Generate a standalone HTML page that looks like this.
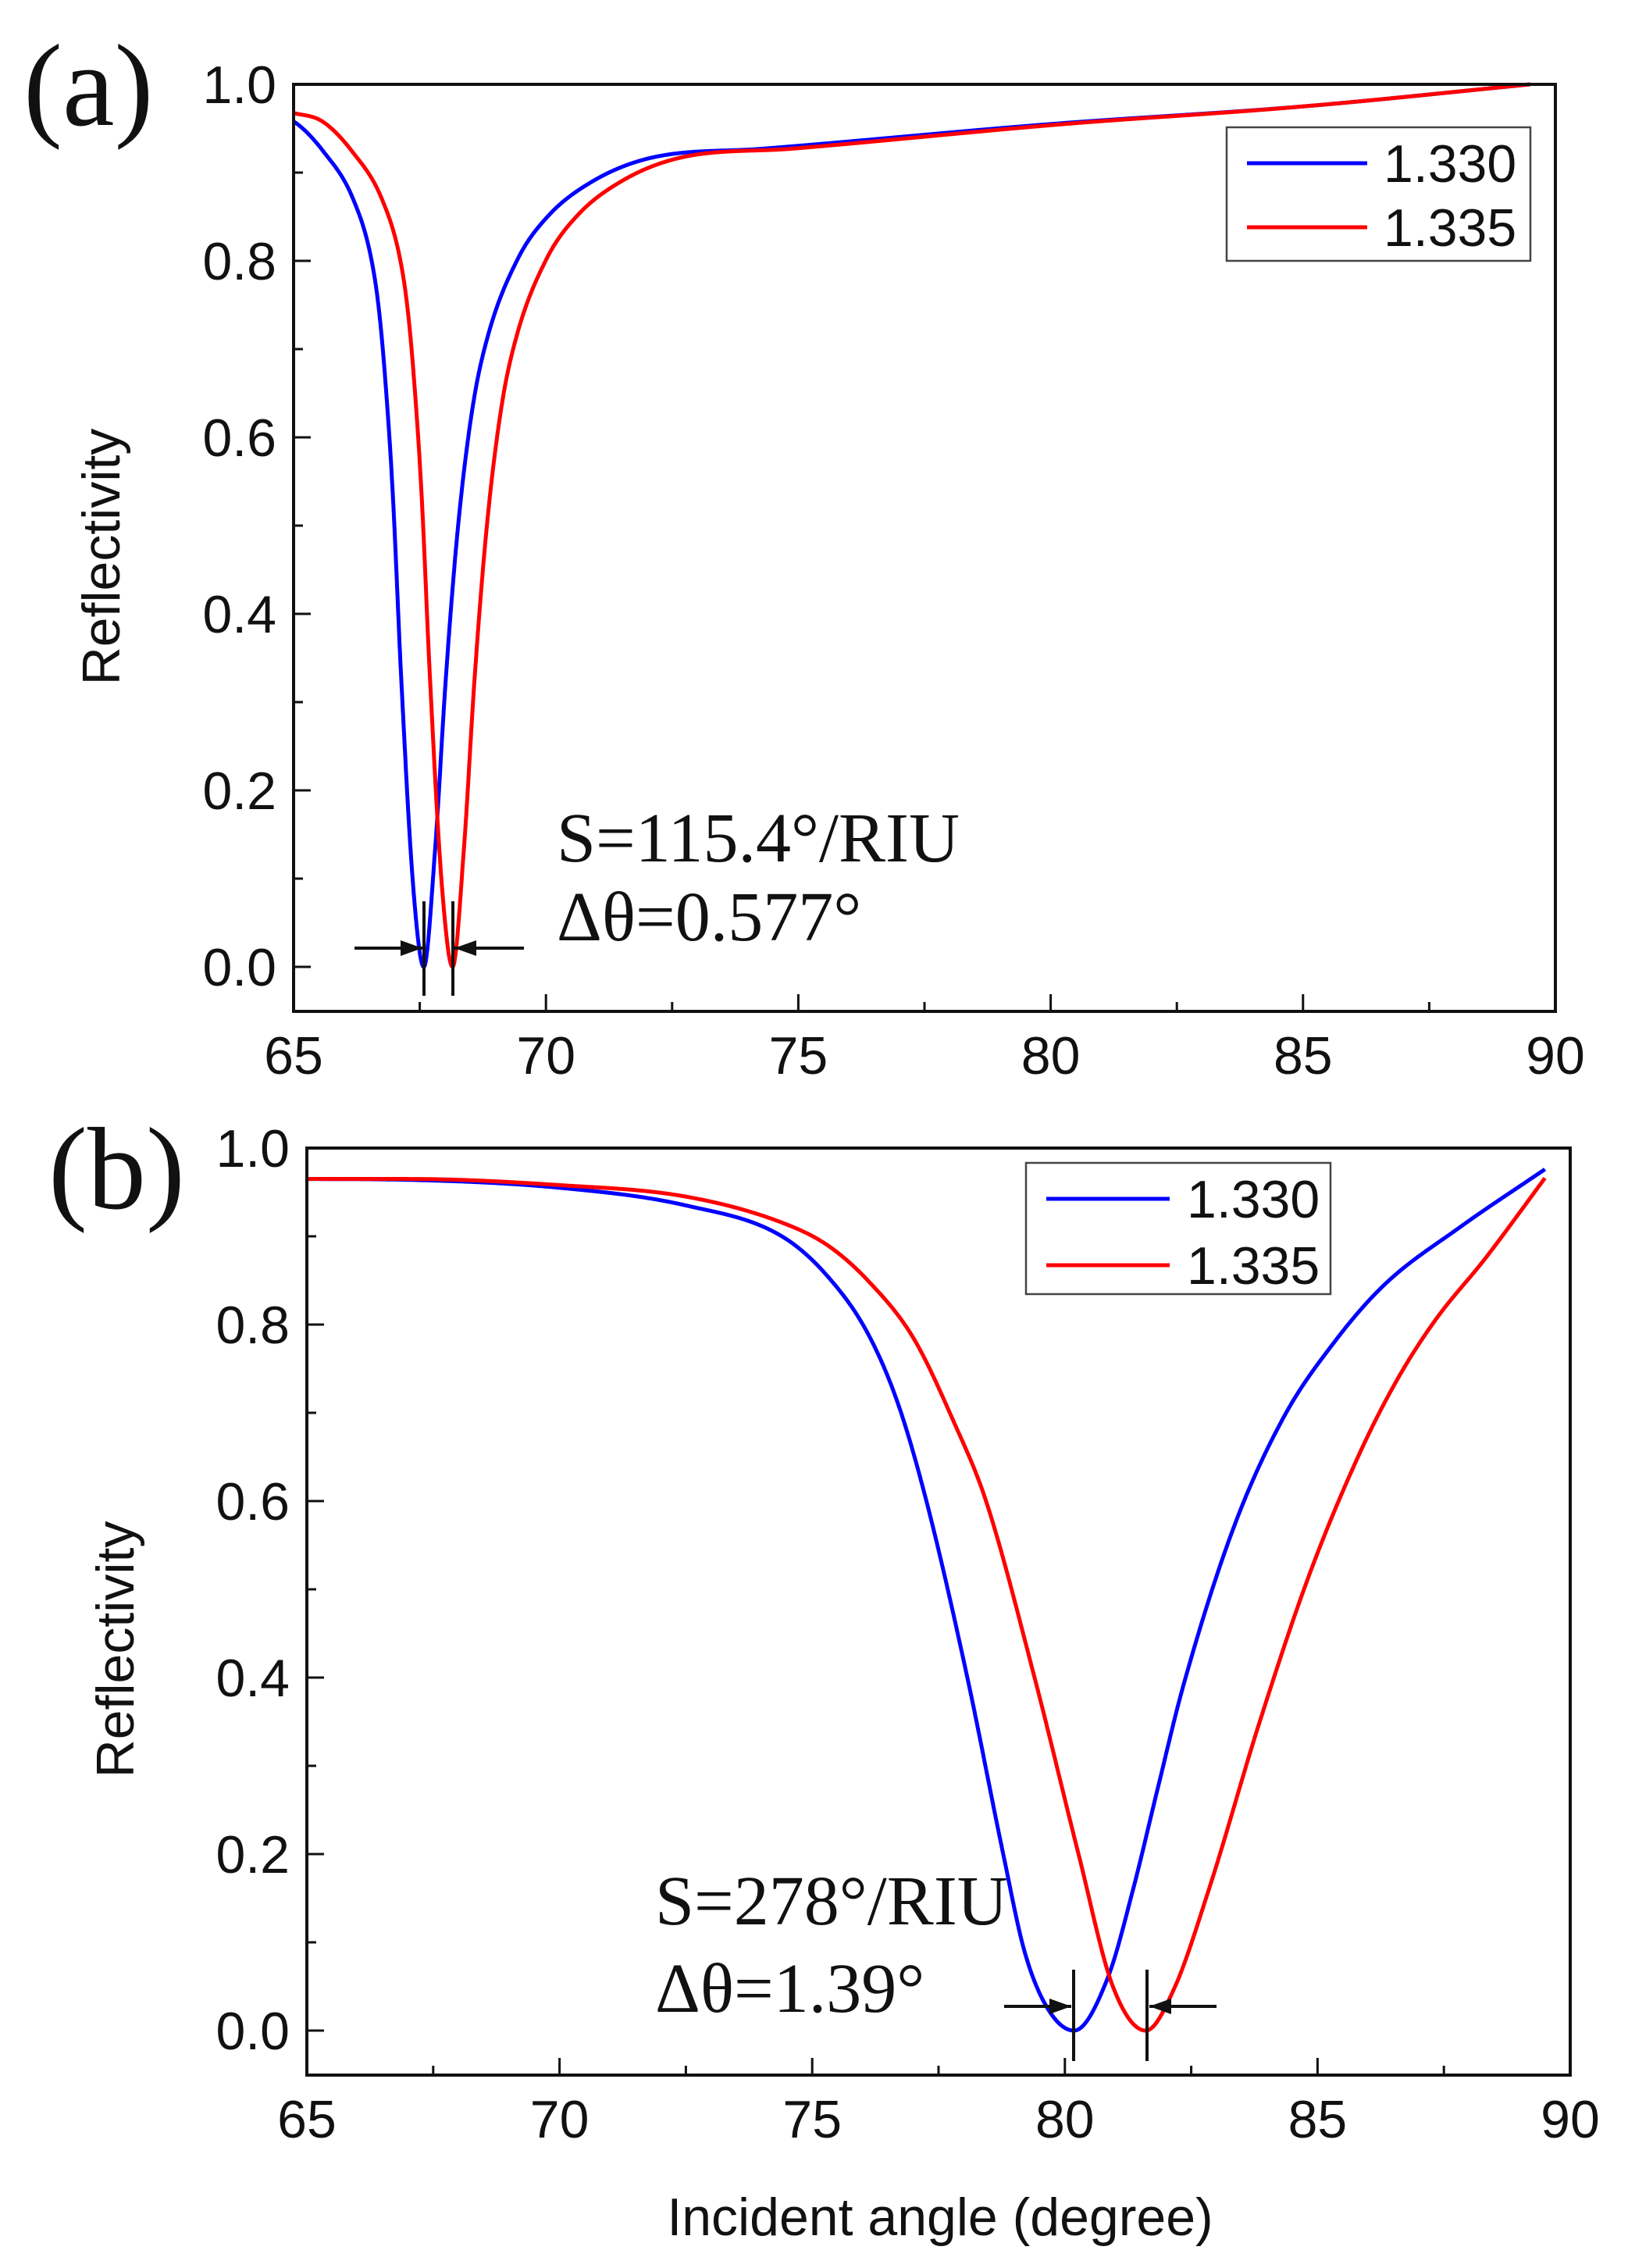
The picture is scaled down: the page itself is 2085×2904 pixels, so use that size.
<!DOCTYPE html>
<html><head><meta charset="utf-8"><style>
html,body{margin:0;padding:0;background:#fff;}
svg{display:block;}
.t{font-family:"Liberation Sans",sans-serif;font-size:68px;fill:#111;}
.s{font-family:"Liberation Serif",serif;fill:#111;}
</style></head><body>
<svg id="s" width="2085" height="2904" viewBox="0 0 2085 2904" xmlns="http://www.w3.org/2000/svg">
<rect width="2085" height="2904" fill="#fff"/>
<g id="g"></g>
<text class="s" x="30" y="160" font-size="150">(a)</text>
<text class="s" x="62" y="1547" font-size="150">(b)</text>
<text class="s" x="713" y="1103" font-size="90">S=115.4°/RIU</text>
<text class="s" x="713" y="1204" font-size="90">Δθ=0.577°</text>
<text class="s" x="839" y="2464" font-size="90">S=278°/RIU</text>
<text class="s" x="839" y="2576" font-size="90">Δθ=1.39°</text>
<text class="t" transform="translate(153,713) rotate(-90)" text-anchor="middle">Reflectivity</text>
<text class="t" transform="translate(171,2112) rotate(-90)" text-anchor="middle">Reflectivity</text>
<text class="t" x="1204" y="2862" text-anchor="middle">Incident angle (degree)</text>
<rect x="1571" y="163" width="389" height="171" fill="#fff" stroke="#444" stroke-width="2.5"/>
<line x1="1597" y1="209" x2="1751" y2="209" stroke="#0000ff" stroke-width="5"/>
<line x1="1597" y1="291" x2="1751" y2="291" stroke="#ff0000" stroke-width="5"/>
<text class="t" x="1772" y="233">1.330</text>
<text class="t" x="1772" y="315">1.335</text>
<rect x="1314" y="1489" width="390" height="168" fill="#fff" stroke="#444" stroke-width="2.5"/>
<line x1="1340" y1="1535" x2="1498" y2="1535" stroke="#0000ff" stroke-width="5"/>
<line x1="1340" y1="1620" x2="1498" y2="1620" stroke="#ff0000" stroke-width="5"/>
<text class="t" x="1520" y="1559">1.330</text>
<text class="t" x="1520" y="1644">1.335</text>
</svg>
<script>
var NS="http://www.w3.org/2000/svg",G=document.getElementById('g');
function el(n,a,txt){var e=document.createElementNS(NS,n);for(var k in a)e.setAttribute(k,a[k]);if(txt!==undefined)e.textContent=txt;G.appendChild(e);return e;}
function mono(pts){var n=pts.length,xs=pts.map(p=>p[0]),ys=pts.map(p=>p[1]),d=[],m=[];
for(var i=0;i<n-1;i++)d.push((ys[i+1]-ys[i])/(xs[i+1]-xs[i]));
m[0]=d[0];m[n-1]=d[n-2];for(i=1;i<n-1;i++){m[i]=(d[i-1]*d[i]<=0)?0:(d[i-1]+d[i])/2;}
for(i=0;i<n-1;i++){if(d[i]==0){m[i]=m[i+1]=0;continue;}var a=m[i]/d[i],b=m[i+1]/d[i],h=a*a+b*b;if(h>9){var t=3/Math.sqrt(h);m[i]=t*a*d[i];m[i+1]=t*b*d[i];}}
return function(x){if(x<=xs[0])return ys[0];if(x>=xs[n-1])return ys[n-1];var k=0;while(xs[k+1]<x)k++;var h=xs[k+1]-xs[k],t=(x-xs[k])/h,t2=t*t,t3=t2*t;
return (2*t3-3*t2+1)*ys[k]+(t3-2*t2+t)*h*m[k]+(-2*t3+3*t2)*ys[k+1]+(t3-t2)*h*m[k+1];};}
function panel(L,R,T,B,y0){
 var sx=(R-L)/25, sy=(y0-T);
 function X(v){return L+(v-65)*sx;} function Y(v){return y0-v*sy;}
 for(var v=65;v<=90.01;v+=2.5){var maj=Math.abs(v%5)<0.01;var x=X(v);
   el('line',{x1:x,y1:B,x2:x,y2:B-(maj?22:12),stroke:'#111','stroke-width':3});
   if(maj)el('text',{x:x,y:B+80,'text-anchor':'middle','class':'t'},String(v));}
 for(var i=0;i<=10;i++){var r=i/10,y=Y(r),maj=i%2==0;
   el('line',{x1:L,y1:y,x2:L+(maj?22:12),y2:y,stroke:'#111','stroke-width':3});
   if(maj)el('text',{x:L-22,y:y+24,'text-anchor':'end','class':'t'},r.toFixed(1));}
 return {X:X,Y:Y};
}
function curve(P,f,a,b,col){var s='';for(var v=a;v<=b+1e-9;v+=0.01){s+=(s?'L':'M')+P.X(v).toFixed(1)+' '+P.Y(f(v)).toFixed(1);}
 el('path',{d:s,fill:'none',stroke:col,'stroke-width':5,'stroke-linejoin':'round'});}
function arrow(x1,x2,y){el('line',{x1:x1,y1:y,x2:x2,y2:y,stroke:'#111','stroke-width':4});
 var d=x2>x1?-1:1;el('polygon',{points:x2+','+y+' '+(x2+d*28)+','+(y-10)+' '+(x2+d*28)+','+(y+10),fill:'#111'});}
var Pa=panel(376,1992,108,1295,1238);
var ba=mono([[64.4,0.968],[65,0.958],[65.59,0.924],[66.18,0.870],[66.54,0.802],[66.7,0.74],[66.85,0.64],[66.97,0.531],[67.13,0.33],[67.37,0.091],[67.58,0.0],[67.8,0.13],[68.02,0.33],[68.26,0.5],[68.55,0.635],[68.85,0.715],[69.44,0.802],[70.03,0.85],[70.92,0.89],[72.1,0.917],[74.28,0.927],[80,0.955],[85,0.975],[89.5,1.0]]);
var ra=function(v){var w=v<75?1:(v>85?0:(85-v)/10);return ba(v-0.57*w);};
curve(Pa,ba,65,89.5,'#0000ff');curve(Pa,ra,65,89.5,'#ff0000');
el('line',{x1:543,y1:1154,x2:543,y2:1275,stroke:'#111','stroke-width':4});
el('line',{x1:580,y1:1154,x2:580,y2:1275,stroke:'#111','stroke-width':4});
arrow(454,541,1214);arrow(671,582,1214);
el('rect',{x:376,y:108,width:1616,height:1187,fill:'none',stroke:'#111','stroke-width':4});
var Pb=panel(393,2011,1470,2657,2600);
var bb=mono([[65,0.965],[67,0.964],[70,0.955],[72.5,0.935],[74.4,0.9],[75.3,0.855],[76.1,0.79],[76.7,0.71],[77.26,0.6],[78.07,0.4],[78.78,0.2],[79.2,0.09],[79.66,0.025],[80.18,0.0],[80.85,0.06],[81.35,0.16],[81.84,0.275],[82.34,0.39],[83.34,0.57],[84.33,0.695],[85.33,0.78],[86.32,0.845],[87.81,0.91],[89.5,0.976]]);
var rb=mono([[65,0.965],[67,0.965],[70,0.958],[72.5,0.945],[74.38,0.916],[75.3,0.89],[76.1,0.85],[77,0.785],[77.8,0.69],[78.44,0.6],[79.4,0.4],[80.27,0.2],[80.95,0.05],[81.6,0.0],[82.15,0.046],[82.85,0.16],[83.85,0.349],[84.84,0.517],[85.84,0.655],[86.6,0.74],[87.33,0.805],[88.32,0.875],[89.5,0.966]]);
curve(Pb,bb,65,89.5,'#0000ff');curve(Pb,rb,65,89.5,'#ff0000');
el('line',{x1:1375,y1:2522,x2:1375,y2:2639,stroke:'#111','stroke-width':4});
el('line',{x1:1469,y1:2522,x2:1469,y2:2639,stroke:'#111','stroke-width':4});
arrow(1286,1372,2569);arrow(1558,1472,2569);
el('rect',{x:393,y:1470,width:1618,height:1187,fill:'none',stroke:'#111','stroke-width':4});
</script>
</body></html>
